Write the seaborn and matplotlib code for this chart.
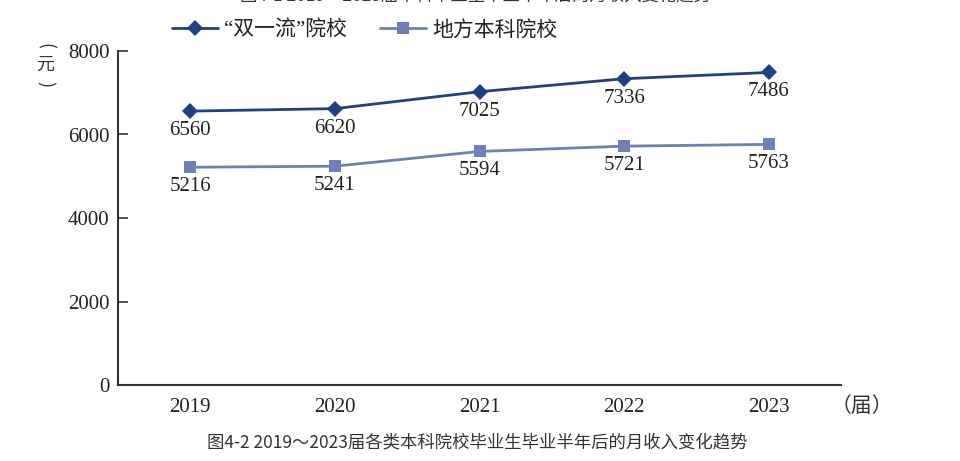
import numpy as np
import pandas as pd
import matplotlib
matplotlib.use('Agg')
import matplotlib.pyplot as plt
import seaborn as sns
from matplotlib.lines import Line2D

years = ["2019", "2020", "2021", "2022", "2023"]
top_tier = [6560, 6620, 7025, 7336, 7486]
local_univ = [5216, 5241, 5594, 5721, 5763]
series_names = ["“双一流”院校", "地方本科院校"]
y_ticks = [0, 2000, 4000, 6000, 8000]

sns.set_theme(style="white")
plt.rcParams['font.family'] = ['Noto Sans CJK SC', 'DejaVu Sans']
serif = ['Liberation Serif', 'DejaVu Serif']

df = pd.DataFrame({
    "idx": list(range(len(years))) * 2,
    "value": top_tier + local_univ,
    "type": [series_names[0]] * len(years) + [series_names[1]] * len(years),
})

colors = {series_names[0]: "#1f3f87", series_names[1]: "#6f7fb8"}
markers = {series_names[0]: "D", series_names[1]: "s"}

fig = plt.figure(figsize=(9.6, 4.61), dpi=100)
ax = fig.add_axes([118 / 960, 1 - 385 / 461, (841 - 118) / 960, (385 - 51) / 461])

sns.lineplot(data=df, x="idx", y="value", hue="type", style="type",
             palette=colors, markers=markers, dashes=False, markersize=8,
             linewidth=2, markeredgewidth=0, legend=False, ax=ax)

# value labels under each point
for vals in (top_tier, local_univ):
    for i, v in enumerate(vals):
        ax.annotate(str(v), (i, v), xytext=(0, -14), textcoords="offset points",
                    ha="center", va="center", fontsize=15, family=serif, color="#222222")

ax.set_xlim(-0.5, len(years) - 0.5)
ax.set_ylim(0, 8000)
ax.set_xticks(range(len(years)))
ax.set_xticklabels(years, family=serif, fontsize=15, color="#222222")
ax.set_xticks(np.arange(-0.5, len(years), 1.0), minor=True)
ax.set_yticks(y_ticks)
ax.set_yticklabels([str(t) for t in y_ticks], family=serif, fontsize=15, color="#222222")
ax.set_xlabel("")
ax.set_ylabel("")

for side in ("top", "right"):
    ax.spines[side].set_visible(False)
for side in ("left", "bottom"):
    ax.spines[side].set_color("#333333")
    ax.spines[side].set_linewidth(1.5)

ax.tick_params(axis="x", which="major", length=0, pad=9)
ax.tick_params(axis="x", which="minor", direction="in", length=8, width=1.2, color="#333333")
ax.tick_params(axis="y", which="major", direction="in", length=7, width=1.2, color="#333333", pad=6, left=True)

handles = [Line2D([0], [0], color=colors[n], marker=markers[n], markersize=8,
                  markeredgewidth=0, linewidth=2) for n in series_names]
leg = ax.legend(handles, series_names, loc="lower left", bbox_to_anchor=(0.06, 1.0), ncol=2,
                frameon=False, prop={"family": ["Liberation Serif", "Noto Sans CJK SC"], "size": 15},
                handlelength=2.2, columnspacing=1.6, handletextpad=0.3, borderaxespad=0.1)
for t in leg.get_texts():
    t.set_color("#222222")

# unit label on the y axis, stacked vertically
unit_x = 45 / 960
fig.text(unit_x, 1 - 46 / 461, "(", rotation=-90, ha="center", va="center",
         fontsize=13, color="#333333")
fig.text(unit_x, 1 - 65 / 461, "元", ha="center", va="center", fontsize=13, color="#333333")
fig.text(unit_x, 1 - 84 / 461, ")", rotation=-90, ha="center", va="center",
         fontsize=13, color="#333333")
fig.text(862 / 960, 1 - 406 / 461, "（届）", ha="center", va="center",
         fontsize=15, color="#333333")

# captions
fig.text(477 / 960, 1 - 442 / 461, "图4-2 2019～2023届各类本科院校毕业生毕业半年后的月收入变化趋势",
         ha="center", va="center", fontsize=12.5, color="#333333")
fig.text(476 / 960, 1 + 5 / 461, "图4-1 2019～2023届本科毕业生毕业半年后的月收入变化趋势",
         ha="center", va="center", fontsize=12.5, color="#333333")

fig.savefig("out.png", dpi=100)
